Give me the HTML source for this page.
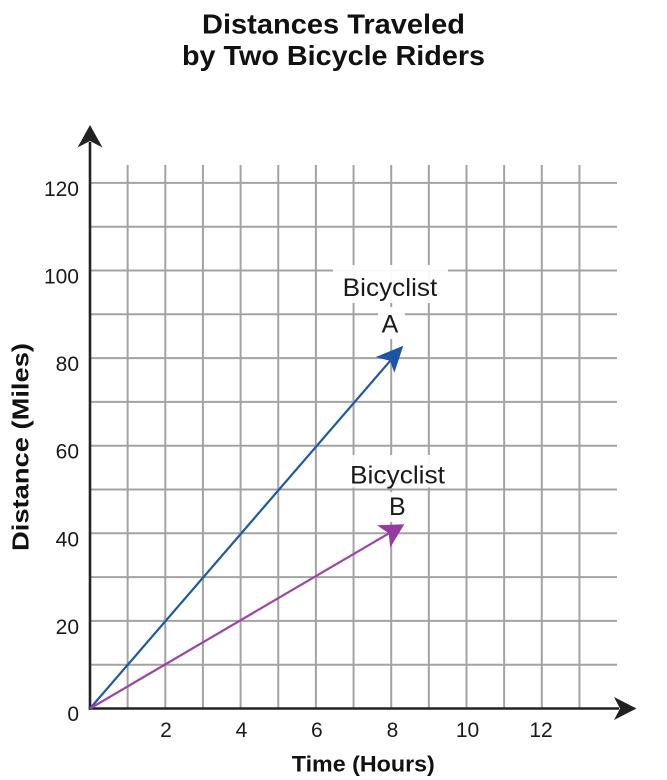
<!DOCTYPE html>
<html>
<head>
<meta charset="utf-8">
<style>
  html, body { margin:0; padding:0; background:#ffffff; }
  body { width:667px; height:780px; overflow:hidden; }
  svg { display:block; }
  text { font-family: "Liberation Sans", Arial, sans-serif; fill:#1a1a1a; }
</style>
</head>
<body>
<svg width="667" height="780" viewBox="0 0 667 780" xmlns="http://www.w3.org/2000/svg">
  <rect x="0" y="0" width="667" height="780" fill="#ffffff"/>

  <!-- Title -->
  <text x="333.5" y="33.5" text-anchor="middle" font-size="28" font-weight="bold" textLength="263" lengthAdjust="spacingAndGlyphs" style="fill:#111">Distances Traveled</text>
  <text x="333.5" y="65" text-anchor="middle" font-size="28" font-weight="bold" textLength="303" lengthAdjust="spacingAndGlyphs" style="fill:#111">by Two Bicycle Riders</text>

  <!-- Grid -->
  <g stroke="#a3a3a3" stroke-width="2" fill="none">
    <!-- vertical lines -->
    <line x1="127.65" y1="165" x2="127.65" y2="708.5"/>
    <line x1="165.3" y1="165" x2="165.3" y2="708.5"/>
    <line x1="202.95" y1="165" x2="202.95" y2="708.5"/>
    <line x1="240.6" y1="165" x2="240.6" y2="708.5"/>
    <line x1="278.25" y1="165" x2="278.25" y2="708.5"/>
    <line x1="315.9" y1="165" x2="315.9" y2="708.5"/>
    <line x1="353.55" y1="165" x2="353.55" y2="708.5"/>
    <line x1="391.2" y1="165" x2="391.2" y2="708.5"/>
    <line x1="428.85" y1="165" x2="428.85" y2="708.5"/>
    <line x1="466.5" y1="165" x2="466.5" y2="708.5"/>
    <line x1="504.15" y1="165" x2="504.15" y2="708.5"/>
    <line x1="541.8" y1="165" x2="541.8" y2="708.5"/>
    <line x1="579.45" y1="165" x2="579.45" y2="708.5"/>
    <!-- horizontal lines -->
    <line x1="90" y1="664.7" x2="617" y2="664.7"/>
    <line x1="90" y1="620.9" x2="617" y2="620.9"/>
    <line x1="90" y1="577.1" x2="617" y2="577.1"/>
    <line x1="90" y1="533.3" x2="617" y2="533.3"/>
    <line x1="90" y1="489.5" x2="617" y2="489.5"/>
    <line x1="90" y1="445.7" x2="617" y2="445.7"/>
    <line x1="90" y1="401.9" x2="617" y2="401.9"/>
    <line x1="90" y1="358.1" x2="617" y2="358.1"/>
    <line x1="90" y1="314.3" x2="617" y2="314.3"/>
    <line x1="90" y1="270.5" x2="617" y2="270.5"/>
    <line x1="90" y1="226.7" x2="617" y2="226.7"/>
    <line x1="90" y1="182.9" x2="617" y2="182.9"/>
  </g>

  <!-- label backgrounds -->
  <g fill="#ffffff" fill-opacity="0.92">
    <rect x="333" y="265" width="115" height="38"/>
    <rect x="378" y="307" width="27" height="32"/>
    <rect x="341" y="455" width="112" height="32.5"/>
    <rect x="383" y="492" width="29" height="30"/>
  </g>

  <!-- Axes -->
  <g stroke="#222222" stroke-width="2.6" fill="none">
    <line x1="90" y1="709.7" x2="90" y2="142"/>
    <line x1="88.7" y1="708.5" x2="619" y2="708.5"/>
  </g>
  <polygon points="90,125 77.5,147.5 90,141 102.5,147.5" fill="#222222"/>
  <polygon points="636.5,708.5 614,697 620,708.5 614,720" fill="#222222"/>

  <!-- Bicyclist A (blue) -->
  <line x1="90" y1="708.5" x2="390.2" y2="360.8" stroke="#1e5aa0" stroke-width="2.2"/>
  <polygon points="403.3,345.7 394.3,372.8 390.2,360.8 375.6,357.1" fill="#1a56a3"/>

  <!-- Bicyclist B (purple) -->
  <line x1="90" y1="708.5" x2="388.8" y2="533.4" stroke="#9c45a4" stroke-width="2.2"/>
  <polygon points="404.3,524.3 390.2,547.6 388.8,533.4 377,525.2" fill="#943aa0"/>

  <!-- Y tick labels -->
  <g font-size="21" text-anchor="end">
    <text x="79" y="721">0</text>
    <text x="79" y="634">20</text>
    <text x="79" y="546.3">40</text>
    <text x="79" y="458.7">60</text>
    <text x="79" y="371">80</text>
    <text x="79" y="283.5">100</text>
    <text x="79" y="196">120</text>
  </g>

  <!-- X tick labels -->
  <g font-size="21" text-anchor="middle">
    <text x="166" y="737">2</text>
    <text x="241.5" y="737">4</text>
    <text x="316.8" y="737">6</text>
    <text x="392.5" y="737">8</text>
    <text x="467.5" y="737">10</text>
    <text x="541" y="737">12</text>
  </g>

  <!-- Axis titles -->
  <text x="363.3" y="771.5" text-anchor="middle" font-size="22" font-weight="bold" textLength="143" lengthAdjust="spacingAndGlyphs" style="fill:#111">Time (Hours)</text>
  <text transform="translate(28.5,447) rotate(-90)" x="0" y="0" text-anchor="middle" font-size="23.5" font-weight="bold" textLength="208" lengthAdjust="spacingAndGlyphs" style="fill:#111">Distance (Miles)</text>

  <!-- Series labels -->
  <text x="390" y="296" text-anchor="middle" font-size="25" textLength="94.6" lengthAdjust="spacingAndGlyphs">Bicyclist</text>
  <text x="390" y="332.7" text-anchor="middle" font-size="25">A</text>
  <text x="397.5" y="483.3" text-anchor="middle" font-size="25" textLength="95" lengthAdjust="spacingAndGlyphs">Bicyclist</text>
  <text x="397.3" y="515" text-anchor="middle" font-size="25">B</text>
</svg>
</body>
</html>
